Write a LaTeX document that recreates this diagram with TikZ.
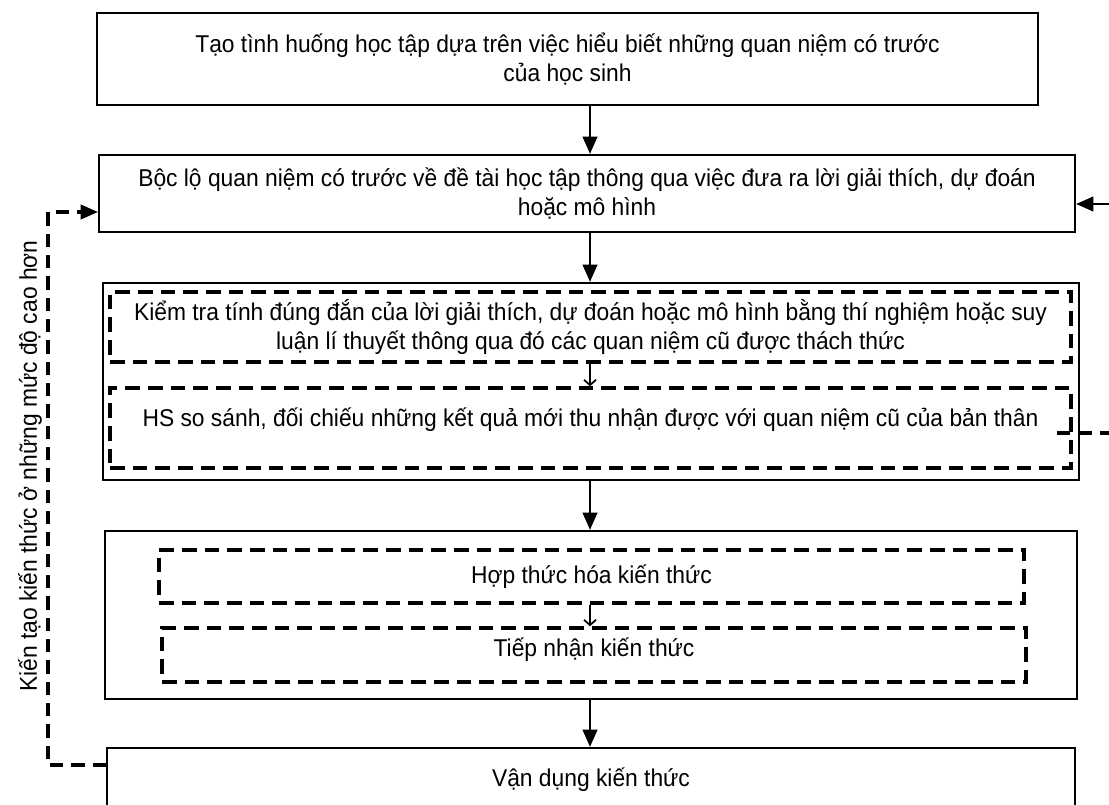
\documentclass[tikz,border=0pt]{standalone}
\usepackage{fontspec}
\setmainfont{Liberation Sans}[FakeStretch=0.94]
\usetikzlibrary{arrows.meta}

\begin{document}
\begin{tikzpicture}[x=0.75pt, y=-0.75pt, >={Triangle[length=13pt,width=11pt]},
  box/.style={draw, line width=1.7pt, align=center, inner sep=0pt},
  dbox/.style={draw, line width=2.6pt, dash pattern=on 11pt off 6pt, align=center, inner sep=0pt},
  flow/.style={->, line width=1.7pt},
  sub/.style={-{Straight Barb[length=4pt,width=9pt]}, line width=1.3pt},
  back/.style={line width=2.4pt, dash pattern=on 10pt off 6pt},
  every node/.style={font=\fontsize{18.2}{22}\selectfont}]
  \clip (0,0) rectangle (1109,804);
  \coordinate (axis) at (590,0);
  % main steps
  \node[box, minimum width=705.75pt, minimum height=69pt] (tao) at (567.5,59)
    {Tạo tình huống học tập dựa trên việc hiểu biết những quan niệm có trước\\của học sinh};
  \node[box, minimum width=732pt, minimum height=57.75pt] (boc) at (587,193.5)
    {Bộc lộ quan niệm có trước về đề tài học tập thông qua việc đưa ra lời giải thích, dự đoán\\hoặc mô hình};
  \node[box, minimum width=732pt, minimum height=147.75pt] (thach) at (591,381.5) {};
  \node[dbox, minimum width=720.75pt, minimum height=52.5pt] (kiem) at (590.5,327)
    {Kiểm tra tính đúng đắn của lời giải thích, dự đoán hoặc mô hình bằng thí nghiệm hoặc suy\\luận lí thuyết thông qua đó các quan niệm cũ được thách thức};
  \node[dbox, minimum width=720.75pt, minimum height=60pt, text depth=16pt] (sosanh) at (590.5,428)
    {HS so sánh, đối chiếu những kết quả mới thu nhận được với quan niệm cũ của bản thân};
  \node[box, minimum width=729pt, minimum height=126pt] (hinh) at (591,615) {};
  \node[dbox, minimum width=648.75pt, minimum height=39.75pt] (hop) at (591.5,576.5)
    {Hợp thức hóa kiến thức};
  \node[dbox, minimum width=648pt, minimum height=40.5pt, text depth=12pt] (tiep) at (594,655)
    {Tiếp nhận kiến thức};
  \node[box, minimum width=726pt, minimum height=48pt] (van) at (591,780)
    {Vận dụng kiến thức};
  % arrows
  \draw[flow] (tao.south -| axis) -- (boc.north -| axis);
  \draw[flow] (boc.south -| axis) -- (thach.north -| axis);
  \draw[sub] (kiem.south -| axis) -- (sosanh.north -| axis);
  \draw[flow] (thach.south -| axis) -- (hinh.north -| axis);
  \draw[sub] (hop.south -| axis) -- (tiep.north -| axis);
  \draw[flow] (hinh.south -| axis) -- (van.north -| axis);
  % feedback loop
  \coordinate (lowleft) at (48,765);
  \coordinate (upleft) at (48,212);
  \draw[back] (lowleft -| van.west) -- (lowleft) -- (upleft) -- (upleft -| boc.west);
  \draw[->, line width=1.7pt] ([xshift=-12pt]upleft -| boc.west) -- (upleft -| boc.west);
  \node[rotate=90] (len) at (30,466) {Kiến tạo kiến thức ở những mức độ cao hơn};
  \coordinate (rin) at (1109,204);
  \draw[flow] (rin) -- (rin -| boc.east);
  \coordinate (rstart) at (1057,433);
  \coordinate (rout) at (1109,433);
  \draw[back] (rstart) -- (rout);
\end{tikzpicture}
\end{document}
